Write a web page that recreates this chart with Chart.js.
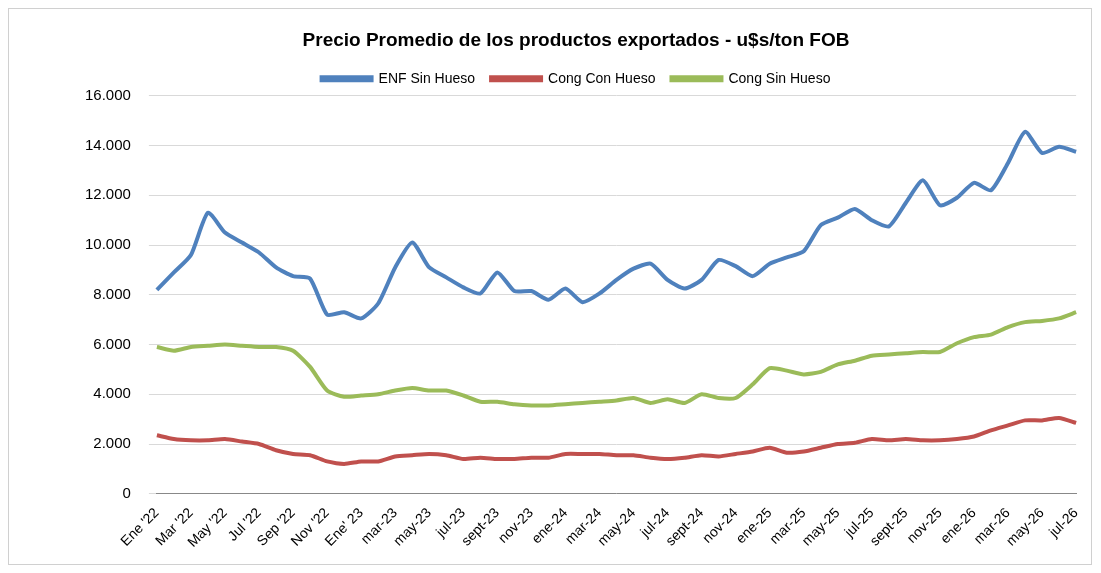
<!DOCTYPE html>
<html>
<head>
<meta charset="utf-8">
<script src="https://cdn.jsdelivr.net/npm/chart.js@4"></script>
<style>
body { margin: 0; background: #fff; }
#wrap { position: absolute; left: 8px; top: 8px; width: 1084px; height: 557px; border: 1px solid #d0d0d0; box-sizing: border-box; }
</style>
</head>
<body>
<div id="wrap"><canvas id="c"></canvas></div>
<script>
const months = ['Ene \'22','Feb \'22','Mar \'22','Abr \'22','May \'22','Jun \'22','Jul \'22','Ago \'22','Sep \'22','Oct \'22','Nov \'22','Dic \'22',
  'Ene\' 23','feb-23','mar-23','abr-23','may-23','jun-23','jul-23','ago-23','sept-23','oct-23','nov-23','dic-23',
  'ene-24','feb-24','mar-24','abr-24','may-24','jun-24','jul-24','ago-24','sept-24','oct-24','nov-24','dic-24',
  'ene-25','feb-25','mar-25','abr-25','may-25','jun-25','jul-25','ago-25','sept-25','oct-25','nov-25','dic-25',
  'ene-26','feb-26','mar-26','abr-26','may-26','jun-26','jul-26'];
const enfSinHueso = [8200,8900,9600,11300,10500,10100,9700,9100,8750,8650,7200,7300,7050,7650,9100,10100,9100,8700,8300,8050,8900,8150,8150,7800,8250,7700,8050,8600,9050,9250,8600,8250,8600,9400,9150,8750,9250,9500,9750,10800,11100,11450,11000,10750,11700,12600,11600,11900,12500,12200,13300,14550,13700,13950,13750];
const congConHueso = [2350,2200,2150,2150,2200,2100,2000,1750,1600,1550,1300,1200,1300,1300,1500,1550,1600,1550,1400,1450,1400,1400,1450,1450,1600,1600,1600,1550,1550,1450,1400,1450,1550,1500,1600,1700,1850,1650,1700,1850,2000,2050,2200,2150,2200,2150,2150,2200,2300,2550,2750,2950,2950,3050,2850];
const congSinHueso = [5900,5750,5900,5950,6000,5950,5900,5900,5750,5100,4150,3900,3950,4000,4150,4250,4150,4150,3950,3700,3700,3600,3550,3550,3600,3650,3700,3750,3850,3650,3800,3650,4000,3850,3850,4400,5050,4950,4800,4900,5200,5350,5550,5600,5650,5700,5700,6050,6300,6400,6700,6900,6950,7050,7300];

Chart.defaults.font.family = '"Liberation Sans", Arial, sans-serif';
Chart.defaults.color = '#000';

function ds(label, data, color) {
    return { label, data, borderColor: color, backgroundColor: color, borderWidth: 4, pointRadius: 0, tension: 0.2, fill: false };
}

new Chart(document.getElementById('c'), {
    type: 'line',
    data: {
        labels: months,
        datasets: [
            ds('ENF Sin Hueso', enfSinHueso, '#4f81bd'),
            ds('Cong Con Hueso', congConHueso, '#c0504d'),
            ds('Cong Sin Hueso', congSinHueso, '#9bbb59')
        ]
    },
    options: {
        responsive: true,
        maintainAspectRatio: false,
        animation: false,
        layout: { padding: { left: 58, right: 6, top: 14, bottom: 10 } },
        plugins: {
            title: { display: true, text: 'Precio Promedio de los productos exportados - u$s/ton FOB', font: { size: 19, weight: 'bold' }, padding: { top: 6, bottom: 4 } },
            legend: { labels: { boxWidth: 50, boxHeight: 3, font: { size: 14 }, padding: 16 } },
            tooltip: { enabled: false }
        },
        scales: {
            x: {
                grid: { display: false },
                border: { color: '#888' },
                ticks: {
                    autoSkip: false, maxRotation: 45, minRotation: 45, font: { size: 14 },
                    callback: (v, i) => i % 2 === 0 ? months[i] : ''
                }
            },
            y: {
                min: 0, max: 16000,
                border: { display: false },
                grid: { color: '#d9d9d9' },
                ticks: { stepSize: 2000, font: { size: 15 }, padding: 18,
                    callback: v => v.toLocaleString('de-DE') }
            }
        }
    }
});
</script>
</body>
</html>
